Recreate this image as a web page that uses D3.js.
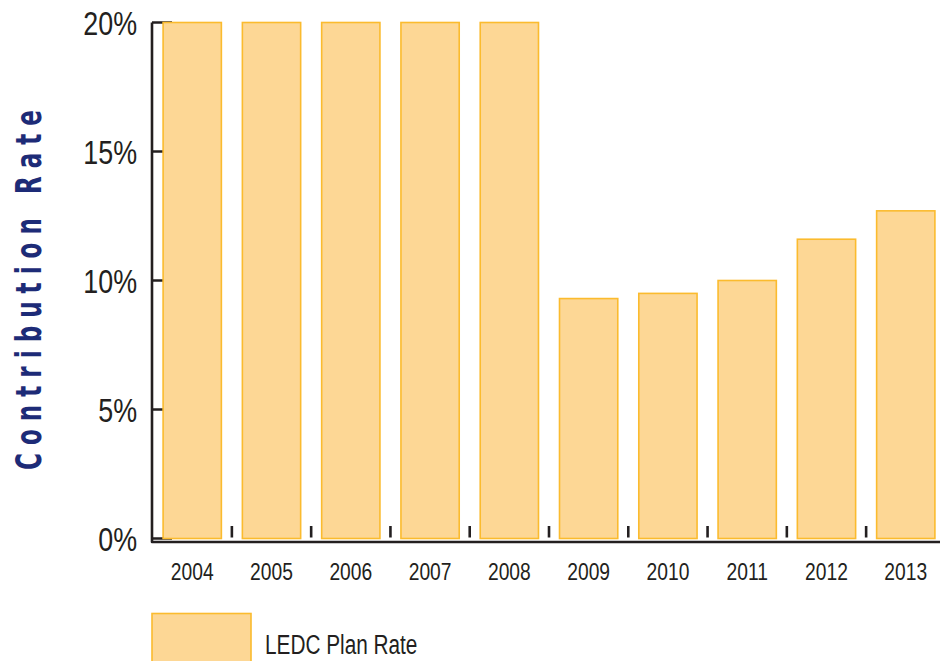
<!DOCTYPE html>
<html><head><meta charset="utf-8">
<script src="https://cdn.jsdelivr.net/npm/d3@7"></script>
<style>
html,body{margin:0;padding:0;background:#fff;}
svg{display:block;}
.lbl{font-family:"Liberation Sans Narrow","Liberation Sans",Arial,sans-serif;fill:#231f20;}
</style></head>
<body>
<svg id="c" width="940" height="661"></svg>
<script>
const years = ["2004","2005","2006","2007","2008","2009","2010","2011","2012","2013"];
const rates = [20, 20, 20, 20, 20, 9.3, 9.5, 10.0, 11.6, 12.7];
const yTicks = [0, 5, 10, 15, 20];
const seriesName = "LEDC Plan Rate";
const yTitle = "Contribution Rate";

const svg = d3.select("#c");
const fill = "#fdd795", stroke = "#fbbb2e", ink = "#231f20";
const axisX = 152;

const x = d3.scaleBand().domain(years).range([152, 946]).paddingInner(0.265).paddingOuter(0.14);
const y = d3.scaleLinear().domain([0, 20]).range([538.5, 22.5]);

// inward y ticks (drawn under bars)
svg.append("g").selectAll("line").data(yTicks).join("line")
  .attr("x1", axisX).attr("x2", axisX + 20)
  .attr("y1", d => y(d)).attr("y2", d => y(d))
  .attr("stroke", ink).attr("stroke-width", 2.5);

// bars
svg.append("g").selectAll("rect").data(rates).join("rect")
  .attr("x", (d, i) => x(years[i]))
  .attr("y", d => y(d))
  .attr("width", x.bandwidth())
  .attr("height", d => y(0) - y(d))
  .attr("fill", fill).attr("stroke", stroke).attr("stroke-width", 1.6);

// axes lines
svg.append("path")
  .attr("d", `M${axisX},${y(20)}V${y(0) + 3.5}H940`)
  .attr("fill", "none").attr("stroke", ink).attr("stroke-width", 2.6).attr("stroke-linejoin", "round");

// separators between bars
const seps = years.slice(1).map((yr, i) => (x(years[i]) + x.bandwidth() + x(yr)) / 2);
svg.append("g").selectAll("line").data(seps).join("line")
  .attr("x1", d => d).attr("x2", d => d)
  .attr("y1", y(0) - 12.5).attr("y2", y(0) - 1)
  .attr("stroke", ink).attr("stroke-width", 2.6);

// y tick labels (condensed look)
svg.append("g").selectAll("text").data(yTicks).join("text")
  .attr("class", "lbl")
  .attr("transform", d => `translate(137,${y(d) + 12}) scale(0.79,1)`)
  .attr("text-anchor", "end")
  .attr("font-size", 34)
  .text(d => d + "%");

// x labels
svg.append("g").selectAll("text").data(years).join("text")
  .attr("class", "lbl")
  .attr("transform", d => `translate(${x(d) + x.bandwidth() / 2},580) scale(0.82,1)`)
  .attr("text-anchor", "middle")
  .attr("font-size", 23.5)
  .text(d => d);

// y title (narrow heavy glyphs, wide spacing)
const titleScale = 0.64;
svg.append("text")
  .attr("transform", `translate(41,290) rotate(-90) scale(${titleScale},1)`)
  .attr("text-anchor", "middle")
  .attr("font-family", "'DejaVu Sans',sans-serif")
  .attr("font-weight", "bold")
  .attr("font-size", 36)
  .attr("fill", "#1d2b77")
  .attr("textLength", 360 / titleScale).attr("lengthAdjust", "spacing")
  .text(yTitle);

// legend
svg.append("rect").attr("x", 152).attr("y", 613.5).attr("width", 99).attr("height", 60)
  .attr("fill", fill).attr("stroke", stroke).attr("stroke-width", 1.6);
svg.append("text").attr("class", "lbl")
  .attr("transform", "translate(265,653.5) scale(0.77,1)")
  .attr("font-size", 27)
  .text(seriesName);
</script>
</body></html>
